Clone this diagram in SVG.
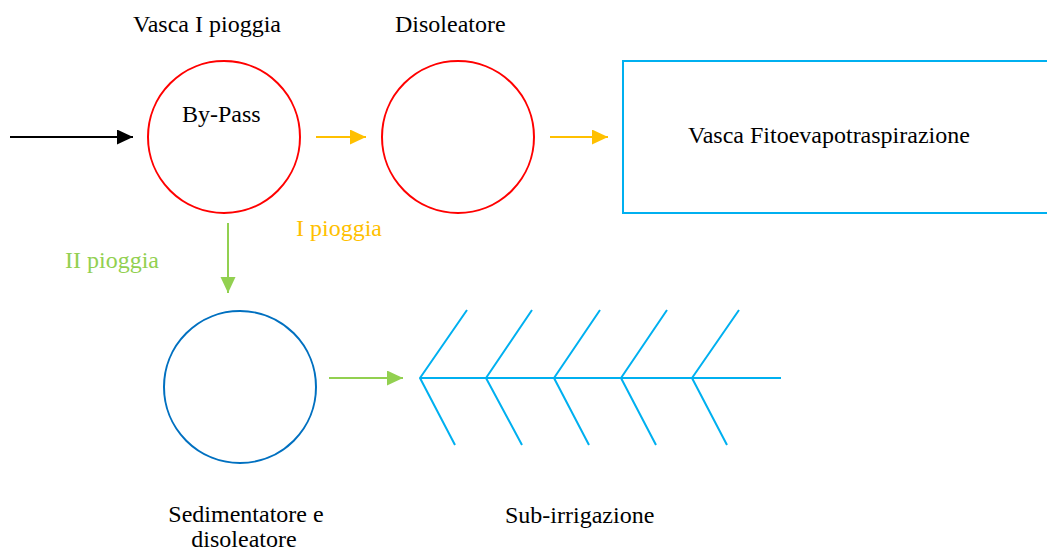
<svg xmlns="http://www.w3.org/2000/svg" width="1047" height="550" viewBox="0 0 1047 550">
  <style>
    text { font-family: "Liberation Serif", "Times New Roman", serif; font-size: 24px; fill: #000; }
    .red { fill: none; stroke: #FF0000; stroke-width: 2; }
    .blue { fill: none; stroke: #0070C0; stroke-width: 2; }
    .cyan { fill: none; stroke: #00B0F0; stroke-width: 2; }
    .blk { stroke: #000; stroke-width: 2; }
    .org { stroke: #FFC000; stroke-width: 2; }
    .grn { stroke: #92D050; stroke-width: 2; }
  </style>
  <defs>
    <marker id="ab" markerUnits="userSpaceOnUse" markerWidth="16" markerHeight="16" refX="16" refY="7.5" orient="auto">
      <path d="M0,0 L16,7.5 L0,15 z" fill="#000"/>
    </marker>
    <marker id="ao" markerUnits="userSpaceOnUse" markerWidth="16" markerHeight="16" refX="16" refY="7.5" orient="auto">
      <path d="M0,0 L16,7.5 L0,15 z" fill="#FFC000"/>
    </marker>
    <marker id="ag" markerUnits="userSpaceOnUse" markerWidth="16" markerHeight="16" refX="16" refY="7.5" orient="auto">
      <path d="M0,0 L16,7.5 L0,15 z" fill="#92D050"/>
    </marker>
  </defs>
  <rect width="1047" height="550" fill="#fff"/>

  <g id="vasca-prima-pioggia">
    <circle class="red" cx="224" cy="137" r="76"/>
    <text x="133" y="32">Vasca I pioggia</text>
    <text x="182" y="122">By-Pass</text>
  </g>

  <g id="disoleatore">
    <circle class="red" cx="458" cy="137" r="76"/>
    <text x="395" y="32">Disoleatore</text>
  </g>

  <g id="vasca-fitoevapotraspirazione">
    <rect class="cyan" x="623" y="61" width="440" height="152"/>
    <text x="688" y="143">Vasca Fitoevapotraspirazione</text>
  </g>

  <g id="sedimentatore">
    <circle class="blue" cx="240" cy="387" r="76"/>
    <text x="246" y="522" text-anchor="middle">Sedimentatore e</text>
    <text x="244" y="547" text-anchor="middle">disoleatore</text>
  </g>

  <g id="sub-irrigazione">
    <g class="cyan">
      <line x1="420" y1="378" x2="781" y2="378"/>
      <polyline points="467,310 420,378 455,445"/>
      <polyline points="532,310 486,378 522,445"/>
      <polyline points="600,310 554,378 589,445"/>
      <polyline points="667,310 621,378 656,445"/>
      <polyline points="739,310 692,378 727,445"/>
    </g>
    <text x="505" y="523">Sub-irrigazione</text>
  </g>

  <g id="connectors">
    <line class="blk" x1="10" y1="137" x2="133" y2="137" marker-end="url(#ab)"/>
    <line class="org" x1="316" y1="137" x2="366" y2="137" marker-end="url(#ao)"/>
    <line class="org" x1="550" y1="137" x2="608" y2="137" marker-end="url(#ao)"/>
    <line class="grn" x1="228" y1="223" x2="228" y2="293" marker-end="url(#ag)"/>
    <line class="grn" x1="329" y1="378" x2="403" y2="378" marker-end="url(#ag)"/>
    <text x="296" y="236" style="fill:#FFC000">I pioggia</text>
    <text x="65" y="268" style="fill:#92D050">II pioggia</text>
  </g>
</svg>
